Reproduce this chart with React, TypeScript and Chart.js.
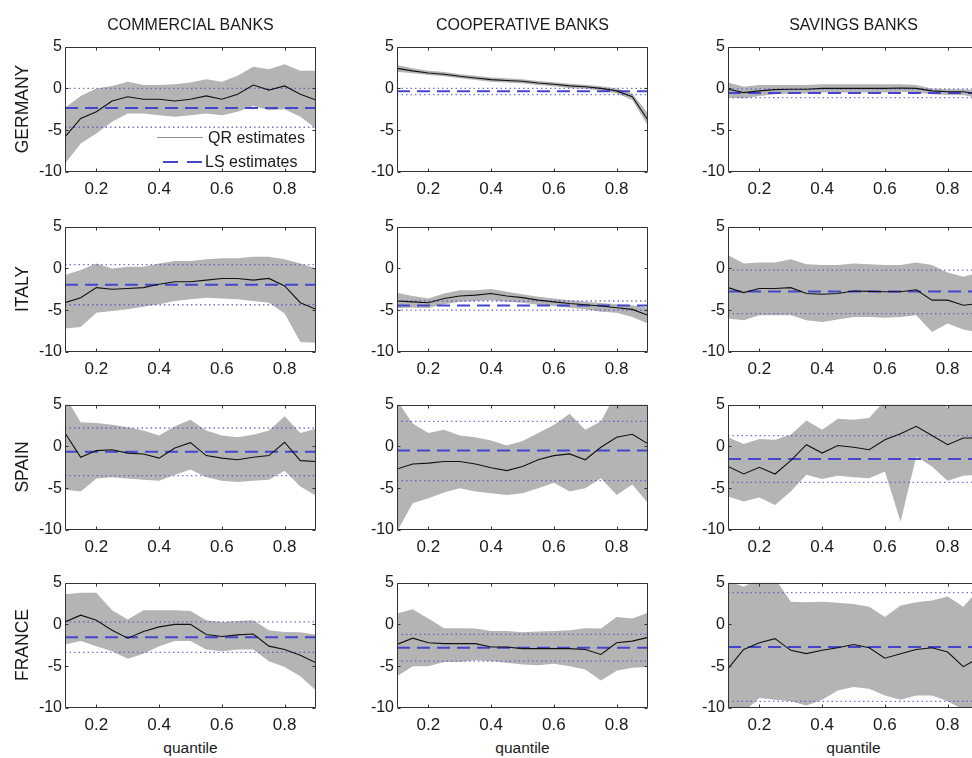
import React, { useEffect, useRef } from "react";
import { Chart, registerables } from "chart.js";
Chart.register(...registerables);

// ---------- data ----------
const quantiles = [0.1, 0.15, 0.2, 0.25, 0.3, 0.35, 0.4, 0.45, 0.5, 0.55, 0.6, 0.65, 0.7, 0.75, 0.8, 0.85, 0.9];
const xTicks = [0.2, 0.4, 0.6, 0.8];
const yTicks = [-10, -5, 0, 5];
const columnTitles = ["COMMERCIAL BANKS", "COOPERATIVE BANKS", "SAVINGS BANKS"];
const rowLabels = ["GERMANY", "ITALY", "SPAIN", "FRANCE"];
const legendLabels = ["QR estimates", "LS estimates"];
const xAxisTitle = "quantile";

// LS arrays: [estimate, upper bound, lower bound]
const deComQR = [-5.8, -3.6, -2.8, -1.5, -1.0, -1.3, -1.3, -1.5, -1.3, -0.9, -1.3, -0.7, 0.4, -0.2, 0.3, -0.7, -1.4];
const deComUp = [-2.3, -0.9, 0.0, 0.3, 0.8, 0.4, 0.4, 0.5, 0.7, 1.1, 0.8, 1.5, 2.6, 2.3, 2.9, 2.1, 2.1];
const deComLo = [-9.0, -6.6, -5.4, -4.0, -3.0, -3.0, -3.2, -3.4, -3.2, -3.0, -3.2, -2.8, -2.1, -2.6, -2.5, -3.4, -4.8];
const deComLS = [-2.35, 0.0, -4.65];

const deCoopQR = [2.4, 2.1, 1.85, 1.7, 1.45, 1.25, 1.05, 0.95, 0.85, 0.65, 0.5, 0.3, 0.2, 0.0, -0.3, -1.0, -3.8];
const deCoopUp = [2.8, 2.4, 2.1, 1.95, 1.7, 1.5, 1.3, 1.2, 1.1, 0.9, 0.75, 0.55, 0.45, 0.25, 0.0, -0.6, -3.0];
const deCoopLo = [2.0, 1.8, 1.6, 1.45, 1.2, 1.0, 0.8, 0.7, 0.6, 0.4, 0.25, 0.05, -0.05, -0.25, -0.6, -1.4, -4.5];
const deCoopLS = [-0.35, 0.0, -0.75];

const deSavQR = [-0.1, -0.5, -0.3, -0.15, -0.1, -0.1, 0.0, 0.0, 0.0, 0.0, 0.0, 0.05, 0.0, -0.3, -0.4, -0.4, -0.7];
const deSavUp = [0.7, 0.2, 0.4, 0.4, 0.4, 0.4, 0.5, 0.5, 0.5, 0.5, 0.5, 0.5, 0.4, 0.0, -0.1, -0.1, -0.2];
const deSavLo = [-1.1, -1.2, -0.9, -0.7, -0.6, -0.6, -0.5, -0.5, -0.5, -0.5, -0.5, -0.4, -0.5, -0.7, -0.8, -0.8, -1.2];
const deSavLS = [-0.55, -0.05, -1.1];

const itComQR = [-4.1, -3.5, -2.3, -2.5, -2.4, -2.3, -1.9, -1.6, -1.6, -1.4, -1.2, -1.2, -1.4, -1.2, -2.1, -4.1, -4.9];
const itComUp = [-0.8, -0.2, 0.6, 0.0, 0.2, 0.2, 0.6, 0.9, 0.9, 1.1, 1.2, 1.2, 1.4, 1.4, 1.1, 0.6, 0.0];
const itComLo = [-7.2, -7.0, -5.3, -5.1, -4.9, -4.6, -4.3, -3.9, -3.7, -3.5, -3.6, -3.7, -3.9, -4.1, -5.4, -8.8, -8.9];
const itComLS = [-1.95, 0.45, -4.35];

const itCoopQR = [-3.9, -4.0, -4.1, -3.6, -3.3, -3.2, -3.0, -3.3, -3.5, -3.8, -4.0, -4.2, -4.35, -4.5, -4.7, -4.9, -5.6];
const itCoopUp = [-2.9, -3.3, -3.6, -3.0, -2.6, -2.6, -2.45, -2.8, -3.1, -3.4, -3.6, -3.8, -4.0, -4.15, -4.3, -4.4, -4.7];
const itCoopLo = [-4.75, -4.7, -4.75, -4.3, -4.0, -3.9, -3.8, -4.0, -4.1, -4.35, -4.5, -4.7, -4.9, -5.2, -5.3, -5.8, -6.6];
const itCoopLS = [-4.45, -3.9, -5.0];

const itSavQR = [-2.3, -2.9, -2.4, -2.4, -2.3, -3.0, -3.1, -3.0, -2.7, -2.75, -2.8, -2.8, -2.55, -3.8, -3.8, -4.4, -4.2];
const itSavUp = [1.6, 0.6, 0.7, 0.7, 1.1, 0.5, 0.4, 0.4, 0.6, 0.5, 0.4, 0.4, 0.7, 0.4, -0.5, -1.0, -0.5];
const itSavLo = [-6.0, -6.2, -5.6, -5.6, -5.6, -6.2, -6.4, -6.1, -5.8, -5.8, -5.9, -5.8, -5.6, -7.6, -6.6, -7.3, -7.7];
const itSavLS = [-2.75, -0.2, -5.4];

const esComQR = [1.6, -1.3, -0.5, -0.4, -0.8, -0.9, -1.4, -0.2, 0.45, -1.1, -1.4, -1.6, -1.3, -1.1, 0.5, -1.7, -1.8];
const esComUp = [6.0, 2.9, 2.8, 2.6, 2.3, 1.9, 1.3, 2.4, 3.2, 1.9, 1.3, 1.1, 1.4, 1.9, 3.6, 1.6, 2.1];
const esComLo = [-5.2, -5.4, -3.85, -3.7, -3.85, -4.0, -4.1, -3.4, -2.75, -3.7, -4.1, -4.25, -4.1, -4.0, -2.9, -4.8, -5.9];
const esComLS = [-0.65, 2.2, -3.5];

const esCoopQR = [-2.7, -2.1, -2.0, -1.8, -1.8, -2.1, -2.55, -2.9, -2.4, -1.6, -1.1, -0.9, -1.6, -0.1, 1.1, 1.45, 0.3];
const esCoopUp = [5.5, 2.75, 1.6, 2.0, 1.3, 1.1, 0.7, 0.1, 0.65, 1.6, 2.55, 3.9, 2.0, 3.0, 6.5, 6.5, 6.5];
const esCoopLo = [-10.2, -6.8, -6.2, -5.5, -5.0, -5.4, -5.6, -5.8, -5.6, -5.0, -4.35, -5.4, -5.0, -3.8, -5.8, -4.55, -6.8];
const esCoopLS = [-0.5, 3.0, -4.1];

const esSavQR = [-2.4, -3.3, -2.5, -3.3, -1.7, 0.2, -0.8, 0.1, -0.1, -0.4, 0.8, 1.5, 2.4, 1.3, 0.2, 1.0, 1.0];
const esSavUp = [1.1, 0.3, 0.9, 0.8, 1.4, 3.1, 2.0, 3.3, 3.2, 3.4, 5.5, 7.0, 7.0, 7.0, 4.6, 7.0, 7.0];
const esSavLo = [-6.0, -6.6, -6.1, -7.0, -5.4, -3.4, -3.9, -3.5, -3.7, -3.8, -3.0, -9.0, -1.2, -2.4, -4.1, -3.5, -3.4];
const esSavLS = [-1.5, 1.3, -4.3];

const frComQR = [0.3, 1.1, 0.5, -0.7, -1.65, -0.85, -0.3, 0.0, 0.0, -1.2, -1.45, -1.25, -1.15, -2.6, -3.0, -3.7, -4.6];
const frComUp = [3.6, 3.8, 3.8, 1.7, 0.6, 1.7, 1.7, 1.7, 1.6, 0.5, 0.3, 0.4, 0.5, -0.7, -0.9, -0.95, -1.25];
const frComLo = [-2.4, -2.0, -2.6, -3.2, -4.1, -3.5, -2.6, -2.0, -2.0, -3.0, -3.2, -3.0, -3.0, -4.4, -5.1, -6.2, -7.9];
const frComLS = [-1.55, 0.3, -3.35];

const frCoopQR = [-2.4, -1.65, -2.2, -2.3, -2.3, -2.3, -2.7, -2.7, -2.9, -2.9, -2.9, -2.9, -3.0, -3.6, -2.2, -2.0, -1.55];
const frCoopUp = [1.3, 1.8, 0.7, -0.45, -0.45, -0.5, -0.8, -0.8, -0.95, -0.85, -0.8, -0.7, -0.45, -0.5, 0.9, 0.7, 1.4];
const frCoopLo = [-6.2, -5.0, -5.0, -4.5, -4.5, -4.3, -4.4, -4.6, -4.8, -4.9, -4.7, -5.0, -5.4, -6.7, -5.55, -5.2, -5.1];
const frCoopLS = [-2.8, -1.2, -4.4];

const frSavQR = [-5.3, -3.0, -2.2, -1.7, -3.1, -3.5, -3.1, -2.8, -2.4, -2.8, -4.05, -3.5, -3.0, -2.8, -3.3, -5.05, -4.0];
const frSavUp = [5.2, 4.5, 5.5, 5.5, 2.7, 2.65, 2.7, 2.6, 2.45, 2.1, 0.9, 2.25, 2.65, 2.85, 3.35, 2.1, 4.2];
const frSavLo = [-10.5, -10.5, -8.8, -9.0, -9.2, -9.7, -9.0, -7.9, -7.5, -7.7, -8.5, -9.0, -8.5, -8.5, -9.2, -10.2, -10.2];
const frSavLS = [-2.7, 3.8, -9.2];

type Panel = { qr: number[]; up: number[]; lo: number[]; ls: number[] };

const panelGrid: Panel[][] = [
  [
    { qr: deComQR, up: deComUp, lo: deComLo, ls: deComLS },
    { qr: deCoopQR, up: deCoopUp, lo: deCoopLo, ls: deCoopLS },
    { qr: deSavQR, up: deSavUp, lo: deSavLo, ls: deSavLS },
  ],
  [
    { qr: itComQR, up: itComUp, lo: itComLo, ls: itComLS },
    { qr: itCoopQR, up: itCoopUp, lo: itCoopLo, ls: itCoopLS },
    { qr: itSavQR, up: itSavUp, lo: itSavLo, ls: itSavLS },
  ],
  [
    { qr: esComQR, up: esComUp, lo: esComLo, ls: esComLS },
    { qr: esCoopQR, up: esCoopUp, lo: esCoopLo, ls: esCoopLS },
    { qr: esSavQR, up: esSavUp, lo: esSavLo, ls: esSavLS },
  ],
  [
    { qr: frComQR, up: frComUp, lo: frComLo, ls: frComLS },
    { qr: frCoopQR, up: frCoopUp, lo: frCoopLo, ls: frCoopLS },
    { qr: frSavQR, up: frSavUp, lo: frSavLo, ls: frSavLS },
  ],
];

// ---------- layout & style ----------
const COL_LEFT = [65, 397, 728];
const ROW_TOP = [46, 226, 404, 582];
const PLOT_W = 251;
const PLOT_H = 126;
const PAD_L = 45;
const PAD_T = 12;
const PAD_R = 10;
const PAD_B = 30;
const FONT = '"Liberation Sans", Arial, Helvetica, sans-serif';
const TEXT = "#1a1a1a";
const BAND = "#b4b4b4";
const DOT = "rgba(80,80,200,0.8)";
const DASH = "#4444cc";
const QR = "#111111";

const framePlugin = {
  id: "matlabFrame",
  afterDraw(chart: any) {
    const { ctx, chartArea: a, scales } = chart;
    const x = scales.x;
    const y = scales.y;
    ctx.save();
    ctx.strokeStyle = "#333";
    ctx.lineWidth = 1;
    const L = Math.round(a.left) + 0.5;
    const R = Math.round(a.right) - 0.5;
    const T = Math.round(a.top) + 0.5;
    const B = Math.round(a.bottom) - 0.5;
    ctx.beginPath();
    ctx.rect(L, T, R - L, B - T);
    const tl = 3;
    xTicks.forEach((v) => {
      const px = Math.round(x.getPixelForValue(v)) + 0.5;
      ctx.moveTo(px, B);
      ctx.lineTo(px, B - tl);
      ctx.moveTo(px, T);
      ctx.lineTo(px, T + tl);
    });
    yTicks.forEach((v) => {
      const py = Math.round(y.getPixelForValue(v)) + 0.5;
      ctx.moveTo(L, py);
      ctx.lineTo(L + tl, py);
      ctx.moveTo(R, py);
      ctx.lineTo(R - tl, py);
    });
    ctx.stroke();
    ctx.restore();
  },
};

function PanelChart({ panel, left, top }: { panel: Panel; left: number; top: number }) {
  const ref = useRef<HTMLCanvasElement | null>(null);
  useEffect(() => {
    if (!ref.current) return;
    const pts = (arr: number[]) => quantiles.map((q, i) => ({ x: q, y: arr[i] }));
    const flat = (v: number) => [
      { x: quantiles[0], y: v },
      { x: quantiles[quantiles.length - 1], y: v },
    ];
    const common = { pointRadius: 0, tension: 0 };
    const chart = new Chart(ref.current, {
      type: "line",
      data: {
        datasets: [
          { ...common, data: pts(panel.up), fill: "+1", backgroundColor: BAND, borderColor: "rgba(0,0,0,0)", borderWidth: 0, order: 3 },
          { ...common, data: pts(panel.lo), fill: false, borderColor: "rgba(0,0,0,0)", borderWidth: 0, order: 3 },
          { ...common, data: flat(panel.ls[1]), fill: false, borderColor: DOT, borderWidth: 1.3, borderDash: [1.5, 3], order: 2 },
          { ...common, data: flat(panel.ls[2]), fill: false, borderColor: DOT, borderWidth: 1.3, borderDash: [1.5, 3], order: 2 },
          { ...common, data: flat(panel.ls[0]), fill: false, borderColor: DASH, borderWidth: 2, borderDash: [13, 7], order: 1 },
          { ...common, data: pts(panel.qr), fill: false, borderColor: QR, borderWidth: 1.1, order: 0 },
        ],
      } as any,
      options: {
        animation: false,
        responsive: false,
        devicePixelRatio: 1,
        events: [],
        layout: { padding: { left: 0, top: PAD_T, right: PAD_R, bottom: 0 } },
        plugins: { legend: { display: false }, tooltip: { enabled: false }, title: { display: false } },
        scales: {
          x: {
            type: "linear",
            min: 0.1,
            max: 0.9,
            afterBuildTicks: (s: any) => {
              s.ticks = xTicks.map((v) => ({ value: v }));
            },
            afterFit: (s: any) => {
              s.height = PAD_B;
            },
            ticks: {
              autoSkip: false,
              maxRotation: 0,
              padding: 7,
              color: TEXT,
              font: { family: FONT, size: 17 },
              callback: (v: any) => Number(v).toFixed(1),
            },
            grid: { display: false, drawTicks: false },
            border: { display: false },
          },
          y: {
            type: "linear",
            min: -10,
            max: 5,
            afterBuildTicks: (s: any) => {
              s.ticks = yTicks.map((v) => ({ value: v }));
            },
            afterFit: (s: any) => {
              s.width = PAD_L;
            },
            ticks: {
              padding: 3,
              color: TEXT,
              font: { family: FONT, size: 16 },
              callback: (v: any) => String(v),
            },
            grid: { display: false, drawTicks: false },
            border: { display: false },
          },
        },
      } as any,
      plugins: [framePlugin],
    });
    return () => chart.destroy();
  }, [panel]);
  const w = PLOT_W + PAD_L + PAD_R;
  const h = PLOT_H + PAD_T + PAD_B;
  return (
    <div style={{ position: "absolute", left: left - PAD_L, top: top - PAD_T, width: w, height: h }}>
      <canvas ref={ref} width={w} height={h} style={{ display: "block", width: w, height: h }} />
    </div>
  );
}

export default function App() {
  return (
    <div
      style={{
        position: "absolute",
        left: 0,
        top: 0,
        width: 972,
        height: 758,
        overflow: "hidden",
        background: "#fff",
        fontFamily: FONT,
        color: TEXT,
      }}
    >
      {panelGrid.map((row, r) =>
        row.map((p, c) => <PanelChart key={`${r}-${c}`} panel={p} left={COL_LEFT[c]} top={ROW_TOP[r]} />)
      )}
      {columnTitles.map((t, c) => (
        <div
          key={t}
          style={{
            position: "absolute",
            left: COL_LEFT[c],
            top: 15,
            width: PLOT_W,
            height: 20,
            lineHeight: "20px",
            textAlign: "center",
            fontSize: 16,
            whiteSpace: "nowrap",
          }}
        >
          {t}
        </div>
      ))}
      {rowLabels.map((t, r) => (
        <div
          key={t}
          style={{
            position: "absolute",
            left: 22,
            top: ROW_TOP[r] + PLOT_H / 2,
            fontSize: 17.5,
            lineHeight: "20px",
            whiteSpace: "nowrap",
            transform: "translate(-50%, -50%) rotate(-90deg)",
          }}
        >
          {t}
        </div>
      ))}
      {COL_LEFT.map((l, c) => (
        <div
          key={"q" + c}
          style={{
            position: "absolute",
            left: l,
            top: 738,
            width: PLOT_W,
            height: 20,
            lineHeight: "20px",
            textAlign: "center",
            fontSize: 15.5,
          }}
        >
          {xAxisTitle}
        </div>
      ))}
      {/* legend in first panel */}
      <div style={{ position: "absolute", left: 157, top: 137, width: 46, height: 0, borderTop: "1.5px solid #8c8c8c" }} />
      <div style={{ position: "absolute", left: 208, top: 128, fontSize: 16, lineHeight: "20px", whiteSpace: "nowrap" }}>
        {legendLabels[0]}
      </div>
      <div style={{ position: "absolute", left: 163, top: 161, width: 15, height: 0, borderTop: `2px solid ${DASH}` }} />
      <div style={{ position: "absolute", left: 187, top: 161, width: 15, height: 0, borderTop: `2px solid ${DASH}` }} />
      <div style={{ position: "absolute", left: 205, top: 152, fontSize: 16, lineHeight: "20px", whiteSpace: "nowrap" }}>
        {legendLabels[1]}
      </div>
    </div>
  );
}
